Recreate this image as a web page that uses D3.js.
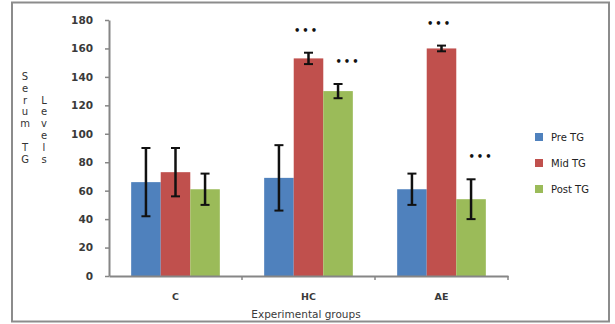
<!DOCTYPE html>
<html>
<head>
<meta charset="utf-8">
<script src="https://cdn.jsdelivr.net/npm/d3@7/dist/d3.min.js"></script>
<style>
  html, body { margin: 0; padding: 0; background: #fff; }
  svg { display: block; }
</style>
</head>
<body>
<script>
// ---- data ----
const categories = ["C", "HC", "AE"];
const seriesNames = ["Pre TG", "Mid TG", "Post TG"];
const preTG = [66, 69, 61];
const preErr = [24, 23, 11];
const midTG = [73, 153, 160];
const midErr = [17, 4, 2];
const postTG = [61, 130, 54];
const postErr = [11, 5, 14];
const preSig = ["", "", ""];
const midSig = ["", "***", "***"];
const postSig = ["", "***", "***"];
const yTicks = [0, 20, 40, 60, 80, 100, 120, 140, 160, 180];
const xTitle = "Experimental groups";
const yTitleCol1 = ["S", "e", "r", "u", "m", "", "T", "G"];
const yTitleCol2 = ["L", "e", "v", "e", "l", "s"];

const colors = ["#4f81bd", "#c0504d", "#9bbb59"];
const seriesVals = [preTG, midTG, postTG];
const seriesErrs = [preErr, midErr, postErr];
const seriesSig = [preSig, midSig, postSig];

const W = 615, H = 324;
const svg = d3.select("body").append("svg").attr("width", W).attr("height", H);

// outer border
svg.append("rect").attr("x", 12).attr("y", 2.5).attr("width", 597).attr("height", 319)
  .attr("fill", "#fff").attr("stroke", "#8c8c8c").attr("stroke-width", 2);

const x = d3.scaleBand().domain(categories).range([109, 508]).padding(0);
const xs = d3.scaleBand().domain(seriesNames).range([0, x.bandwidth()]).paddingInner(0).paddingOuter(0.75);
const y = d3.scaleLinear().domain([0, 180]).range([276, 20]);

const font = "'DejaVu Sans', Verdana, sans-serif";

// bars
const rows = [];
categories.forEach((c, ci) => {
  seriesNames.forEach((s, si) => {
    rows.push({ c, s, si, v: seriesVals[si][ci], e: seriesErrs[si][ci], sig: seriesSig[si][ci] });
  });
});

svg.append("g").selectAll("rect").data(rows).join("rect")
  .attr("x", d => x(d.c) + xs(d.s))
  .attr("y", d => y(d.v))
  .attr("width", xs.bandwidth())
  .attr("height", d => y(0) - y(d.v))
  .attr("fill", d => colors[d.si]);

// error bars
const eb = svg.append("g").attr("stroke", "#111");
rows.forEach(d => {
  const cx = x(d.c) + xs(d.s) + xs.bandwidth() / 2;
  eb.append("line").attr("x1", cx).attr("x2", cx).attr("y1", y(d.v - d.e)).attr("y2", y(d.v + d.e)).attr("stroke-width", 2.5);
  [d.v - d.e, d.v + d.e].forEach(v => {
    eb.append("line").attr("x1", cx - 4.5).attr("x2", cx + 4.5).attr("y1", y(v)).attr("y2", y(v)).attr("stroke-width", 2);
  });
});

// significance marks
svg.append("g").selectAll("text").data(rows.filter(d => d.sig)).join("text")
  .attr("x", d => x(d.c) + xs(d.s) + xs.bandwidth() / 2 + (d.si === 2 ? 10 : -2))
  .attr("y", d => y(d.v + d.e) - 22)
  .attr("text-anchor", "middle").attr("dominant-baseline", "middle")
  .attr("font-family", font).attr("font-size", 10).attr("font-weight", "bold")
  .attr("letter-spacing", 2).attr("fill", "#111")
  .text(d => d.sig.replace(/\*/g, "\u2022"));

// y axis
const yAxis = svg.append("g").attr("transform", "translate(109,0)")
  .call(d3.axisLeft(y).tickValues(yTicks).tickSize(4).tickSizeOuter(0).tickPadding(12));
yAxis.select(".domain").attr("stroke", "#868686").attr("stroke-width", 2);
yAxis.selectAll(".tick line").attr("stroke", "#868686").attr("stroke-width", 1.5);
yAxis.selectAll(".tick text").attr("font-family", font).attr("font-size", 10.5)
  .attr("font-weight", "bold").attr("fill", "#3a3a3a");

// x axis
const xAxis = svg.append("g").attr("transform", "translate(0,276)")
  .call(d3.axisBottom(x).tickSize(0).tickPadding(17));
xAxis.select(".domain").attr("stroke", "#868686").attr("stroke-width", 2);
xAxis.selectAll(".tick text").attr("font-family", font).attr("font-size", 9.5)
  .attr("font-weight", "bold").attr("fill", "#3a3a3a");
// boundary ticks
const bounds = categories.map(c => x(c) + x.bandwidth());
xAxis.selectAll(".btick").data(bounds).join("line").attr("class", "btick")
  .attr("x1", d => d).attr("x2", d => d).attr("y1", 0).attr("y2", 4)
  .attr("stroke", "#868686").attr("stroke-width", 1.5);

// x title
svg.append("text").attr("x", 306).attr("y", 318).attr("text-anchor", "middle")
  .attr("font-family", font).attr("font-size", 10.5).attr("fill", "#3a3a3a").text(xTitle);

// y title (stacked letters)
svg.append("g").selectAll("text").data(yTitleCol1).join("text")
  .attr("x", 25).attr("y", (d, i) => 80 + i * 11.8).attr("text-anchor", "middle")
  .attr("font-family", font).attr("font-size", 10).attr("fill", "#333")
  .text(d => d);
svg.append("g").selectAll("text").data(yTitleCol2).join("text")
  .attr("x", 44).attr("y", (d, i) => 103.6 + i * 11.8).attr("text-anchor", "middle")
  .attr("font-family", font).attr("font-size", 10).attr("fill", "#333")
  .text(d => d);

// legend
const lg = svg.append("g").selectAll("g").data(seriesNames).join("g")
  .attr("transform", (d, i) => `translate(535,${137 + i * 26})`);
lg.append("rect").attr("x", 0).attr("y", -4).attr("width", 8).attr("height", 8)
  .attr("fill", (d, i) => colors[i]);
lg.append("text").attr("x", 16).attr("y", 0).attr("dominant-baseline", "central")
  .attr("font-family", font).attr("font-size", 10).attr("fill", "#222")
  .text(d => d);
</script>
</body>
</html>
